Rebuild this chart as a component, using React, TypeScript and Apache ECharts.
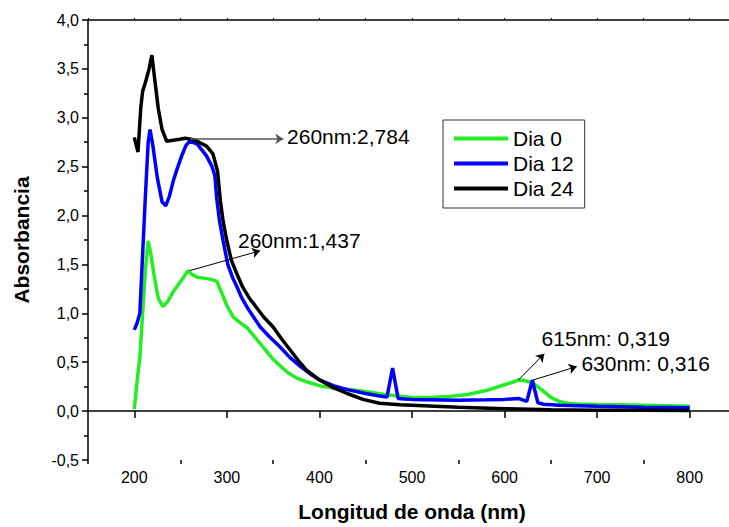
import React, { useEffect, useRef } from "react";
import * as echarts from "echarts";

// ---- Data ----
const seriesNames = ["Dia 0", "Dia 12", "Dia 24"];
const seriesColors = ["#22ee22", "#0000ff", "#000000"];

const nmDia0 = [200, 203, 206, 209, 212, 215, 218, 222, 226, 231, 236, 242, 248, 254, 258, 262, 268, 275, 282, 289, 294, 300, 307, 315, 322, 330, 336, 343, 350, 358, 365, 375, 386, 400, 415, 430, 450, 470, 480, 500, 520, 540, 560, 580, 600, 610, 615, 620, 630, 640, 650, 660, 670, 680, 700, 725, 750, 775, 800];
const absDia0 = [0.02, 0.3, 0.55, 1.0, 1.45, 1.74, 1.6, 1.35, 1.15, 1.07, 1.12, 1.22, 1.3, 1.38, 1.437, 1.4, 1.37, 1.36, 1.35, 1.33, 1.22, 1.08, 0.96, 0.9, 0.85, 0.76, 0.69, 0.61, 0.53, 0.46, 0.4, 0.34, 0.3, 0.26, 0.235, 0.225, 0.2, 0.17, 0.16, 0.14, 0.14, 0.15, 0.17, 0.21, 0.27, 0.3, 0.319, 0.315, 0.29, 0.22, 0.14, 0.095, 0.078, 0.072, 0.068, 0.064, 0.06, 0.055, 0.05];

const nmDia12 = [200, 203, 206, 209, 212, 215, 217, 220, 225, 230, 234, 238, 242, 246, 252, 256, 260, 268, 278, 284, 287, 289, 292, 296, 301, 306, 311, 316, 322, 329, 336, 346, 357, 368, 379, 390, 400, 415, 430, 450, 465, 473, 479, 485, 492, 500, 550, 580, 600, 615, 624, 630, 636, 642, 660, 700, 750, 800];
const absDia12 = [0.83, 0.9, 1.0, 1.6, 2.2, 2.75, 2.88, 2.72, 2.38, 2.14, 2.1, 2.2, 2.35, 2.47, 2.63, 2.72, 2.76, 2.73, 2.61, 2.5, 2.41, 2.18, 1.95, 1.74, 1.5, 1.37, 1.27, 1.16, 1.06, 0.96, 0.86, 0.76, 0.66, 0.55, 0.46, 0.38, 0.32, 0.26, 0.22, 0.18, 0.155, 0.145, 0.44, 0.13, 0.125, 0.12, 0.11, 0.115, 0.12, 0.13, 0.1, 0.316, 0.085, 0.07, 0.06, 0.05, 0.04, 0.035];

const nmDia24 = [200, 204, 207, 209, 212, 216, 219, 222, 226, 230, 235, 242, 249, 255, 260, 266, 272, 278, 285, 290, 293, 296, 300, 305, 311, 317, 324, 332, 340, 350, 359, 368, 377, 386, 400, 415, 430, 447, 465, 487, 500, 550, 600, 650, 700, 750, 800];
const absDia24 = [2.8, 2.65, 3.1, 3.27, 3.36, 3.5, 3.64, 3.4, 3.09, 2.88, 2.76, 2.77, 2.78, 2.79, 2.784, 2.77, 2.74, 2.71, 2.63, 2.45, 2.15, 1.94, 1.74, 1.54, 1.4, 1.27, 1.16, 1.06, 0.96, 0.86, 0.74, 0.63, 0.52, 0.42, 0.32, 0.24, 0.18, 0.12, 0.08, 0.065, 0.06, 0.04, 0.025, 0.015, 0.01, 0.008, 0.005];

const xMajorTicks = [200, 300, 400, 500, 600, 700, 800];
const xMinorTicks = [150, 250, 350, 450, 550, 650, 750, 850];

const annotationTexts = ["260nm:2,784", "260nm:1,437", "615nm: 0,319", "630nm: 0,316"];
const arrowFrom = [[260, 2.784], [260, 1.437], [615, 0.319], [630, 0.316]];
const arrowTo = [[361, 2.784], [336, 1.64], [643, 0.587], [678, 0.455]];
const textAt = [[365, 2.81], [312, 1.74], [640, 0.739], [683, 0.486]];
const arrowColors = ["#555555", "#000000", "#000000", "#000000"];

const FONT = "'Liberation Sans', Arial, sans-serif";

export default function App() {
  const ref = useRef<HTMLDivElement>(null);

  useEffect(() => {
    if (!ref.current) return;
    document.body.style.overflow = "hidden";
    const chart = echarts.init(ref.current, null, { renderer: "svg" });

    const nmArrays = [nmDia0, nmDia12, nmDia24];
    const absArrays = [absDia0, absDia12, absDia24];

    const series: any[] = seriesNames.map((name, si) => ({
      type: "line",
      name,
      xAxisIndex: 0,
      yAxisIndex: 0,
      showSymbol: false,
      symbol: "none",
      data: nmArrays[si].map((x, i) => [x, absArrays[si][i]]),
      lineStyle: { width: 3.5, color: seriesColors[si] },
      itemStyle: { color: seriesColors[si] },
      emphasis: { disabled: true },
      z: 2 + si,
    }));

    series[2].markLine = {
      silent: true,
      symbol: ["none", "arrow"],
      symbolSize: 8,
      label: { show: false },
      emphasis: { disabled: true },
      data: arrowFrom.map((from, i) => [
        { coord: from, lineStyle: { color: arrowColors[i], width: i === 0 ? 1.5 : 1, type: "solid" } },
        { coord: arrowTo[i] },
      ]),
    };
    series[2].markPoint = {
      silent: true,
      symbol: "circle",
      symbolSize: 0,
      data: textAt.map((c, i) => ({
        coord: c,
        label: {
          show: true,
          formatter: annotationTexts[i],
          position: "right",
          distance: 0,
          color: "#000",
          fontSize: 21,
          fontFamily: FONT,
        },
      })),
    };

    const axisLineStyle = { color: "#000", width: 1.5 };

    chart.setOption({
      animation: false,
      backgroundColor: "#fff",
      grid: { left: 88, top: 20, right: 0, bottom: 62, containLabel: false },
      legend: {
        data: seriesNames,
        orient: "vertical",
        left: 443,
        top: 120,
        padding: [8, 11, 9, 11],
        itemGap: 4,
        itemWidth: 54,
        itemHeight: 4,
        icon: "rect",
        borderColor: "#333",
        borderWidth: 1,
        borderRadius: 0,
        backgroundColor: "#fff",
        selectedMode: false,
        textStyle: { fontSize: 21, color: "#000", fontFamily: FONT, lineHeight: 21 },
      },
      xAxis: [
        {
          type: "value",
          position: "bottom",
          min: 150,
          max: 850,
          interval: 50,
          name: "Longitud de onda (nm)",
          nameLocation: "middle",
          nameGap: 41,
          nameTextStyle: { fontSize: 21, fontWeight: "bold", color: "#000", fontFamily: FONT },
          axisLine: { show: true, lineStyle: axisLineStyle },
          axisTick: { show: true, customValues: xMajorTicks, length: 7, lineStyle: { color: "#000", width: 1.5 } },
          axisLabel: { customValues: xMajorTicks, fontSize: 16, color: "#000", fontFamily: FONT, margin: 9 },
          splitLine: { show: false },
        },
        {
          type: "value",
          position: "bottom",
          min: 150,
          max: 850,
          interval: 50,
          axisLine: { show: false },
          axisTick: { show: true, customValues: xMinorTicks, length: 4, lineStyle: { color: "#000", width: 1.5 } },
          axisLabel: { show: false },
          splitLine: { show: false },
        },
        {
          type: "value",
          position: "top",
          min: 150,
          max: 850,
          interval: 50,
          axisLine: { show: true, lineStyle: axisLineStyle },
          axisTick: { show: true, length: 2, lineStyle: { color: "#000", width: 1 } },
          axisLabel: { show: false },
          splitLine: { show: false },
        },
      ],
      yAxis: [
        {
          type: "value",
          min: -0.5,
          max: 4,
          interval: 0.5,
          name: "Absorbancia",
          nameLocation: "middle",
          nameGap: 56,
          nameTextStyle: { fontSize: 21, fontWeight: "bold", color: "#000", fontFamily: FONT },
          axisLine: { show: true, lineStyle: axisLineStyle },
          axisTick: { show: true, length: 6, lineStyle: { color: "#000", width: 1.5 } },
          minorTick: { show: true, splitNumber: 2, length: 4, lineStyle: { color: "#000", width: 1.5 } },
          axisLabel: {
            fontSize: 16,
            color: "#000",
            fontFamily: FONT,
            margin: 9,
            formatter: (v: number) => v.toFixed(1).replace(".", ","),
          },
          splitLine: { show: false },
        },
      ],
      series,
    });

    return () => chart.dispose();
  }, []);

  return (
    <div
      ref={ref}
      style={{ position: "fixed", left: 0, top: 0, width: 736, height: 527, background: "#fff" }}
    />
  );
}
